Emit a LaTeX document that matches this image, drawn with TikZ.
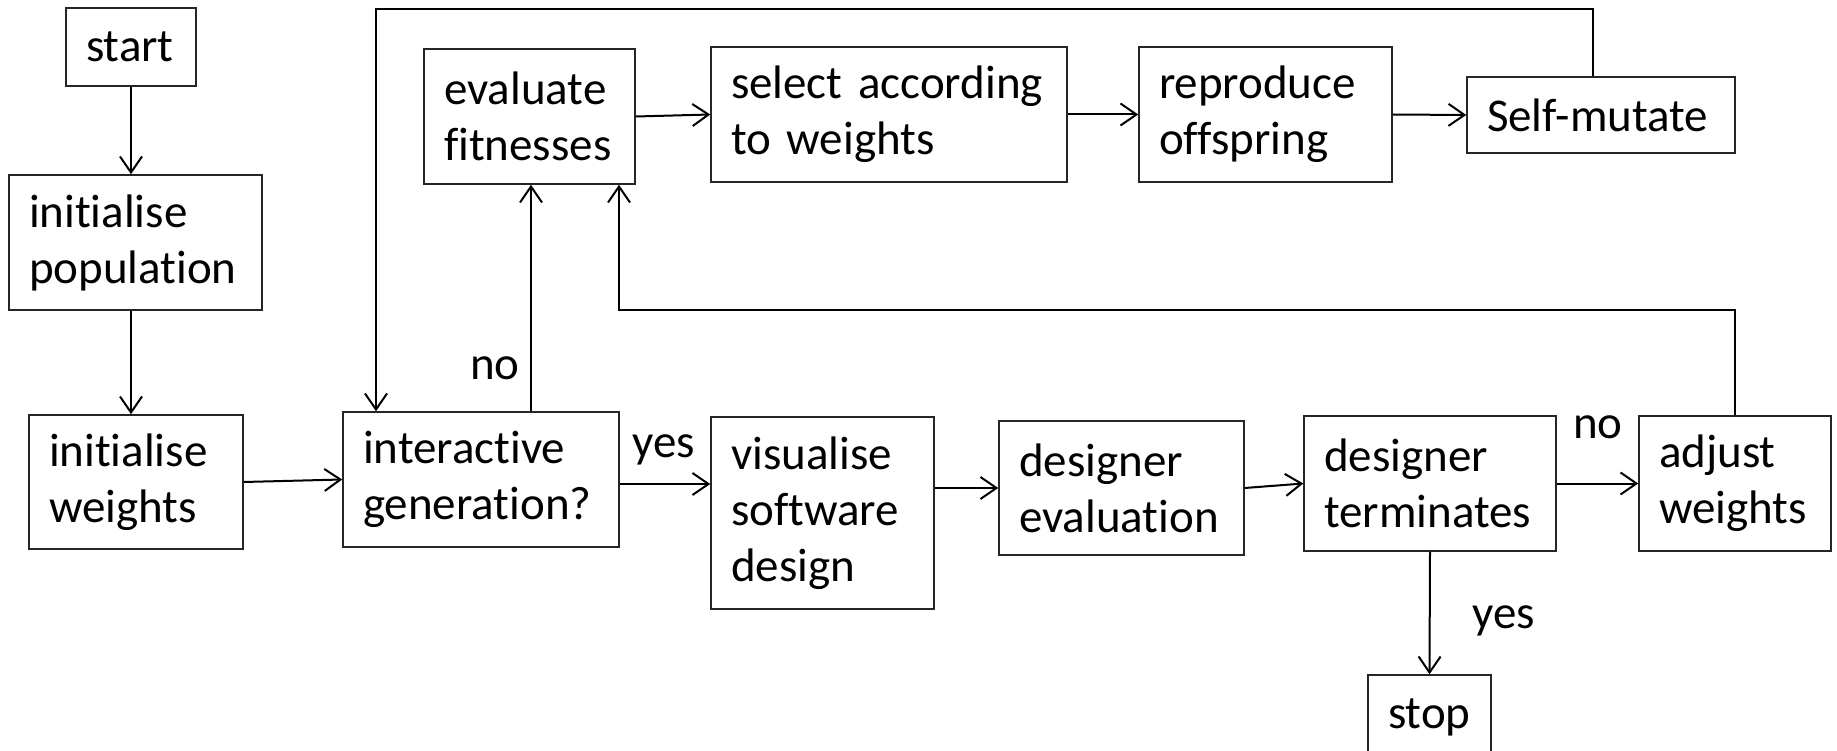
\documentclass[tikz,border=0pt]{standalone}
\usepackage{fontspec}
\setmainfont{Carlito}[Ligatures={NoCommon,NoContextual}]
\usetikzlibrary{arrows.meta,calc}
\tikzset{
  box/.style={draw=black!85, line width=1.5pt, rectangle, inner xsep=20pt, inner ysep=0pt,
    align=left, font=\fontsize{47}{56}\selectfont, anchor=center},
  arr/.style={draw=black, line width=2pt, -{Straight Barb[length=16pt,width=22pt,line width=2pt]}},
  lbl/.style={font=\fontsize{47}{56}\selectfont, anchor=base, inner sep=0pt}
}
\newcommand{\bx}[6]{\node[box, minimum width=#3pt, minimum height=#4pt, text width=#3pt-40pt] (#5) at (#1,#2) {#6};}
\newcommand{\tk}{t\kern0pt }
\begin{document}
\begin{tikzpicture}[x=1pt,y=-1pt]
\useasboundingbox (0,0) rectangle (1837,751);
\clip (0,0) rectangle (1837,751);
\fill[white] (0,0) rectangle (1837,751);
% boxes
\bx{131}{47}{130}{78}{start}{start}
\bx{135.5}{242.5}{253}{135}{initpop}{ini\tk ialise\\popula\tk ion}
\bx{136}{482}{214}{134}{initw}{ini\tk ialise\\weights}
\bx{481}{479.5}{276}{135}{inter}{interac\tk ive\\genera\tk ion?}
\bx{529.5}{116.5}{211}{135}{evalf}{evaluate\\fitnesses}
\bx{889}{114.5}{356}{135}{select}{select according\\to weights}
\bx{1265.5}{114.5}{253}{135}{repro}{reproduce\\offspring}
\bx{1601}{115}{268}{76}{selfm}{Self-mutate}
\bx{822.5}{513}{223}{192}{visual}{visualise\\software\\design}
\bx{1121.5}{488}{245}{134}{deval}{designer\\evaluation}
\bx{1430}{483.5}{252}{135}{dterm}{designer\\terminates}
\bx{1735}{483.5}{192}{135}{adjust}{adjust\\weights}
\bx{1429.5}{717.5}{123}{85}{stop}{stop}
% helper coordinates
\coordinate (tl) at (376,9);
\coordinate (tr) at (1593,9);
\coordinate (bl) at (619,310);
\coordinate (nox) at (531,0);
\coordinate (iy) at ($(inter.east)+(0,4.5)$);
% connectors
\draw[arr] (start.south) -- (start.south |- initpop.north);
\draw[arr] (initpop.south -| start.south) -- (initw.north -| start.south);
\draw[arr] (initw.east) -- (inter.west);
\draw[arr] (iy) -- (iy -| visual.west);
\draw[arr] (inter.north -| nox) -- (evalf.south -| nox);
\draw[arr] (evalf.east) -- (select.west);
\draw[arr] (select.east) -- (repro.west);
\draw[arr] (repro.east) -- (selfm.west);
\draw[arr] (selfm.north -| tr) -- (tr) -- (tl) -- (tl |- inter.north);
\draw[arr] (visual.east |- deval.west) -- (deval.west);
\draw[arr] (deval.east) -- (dterm.west);
\draw[arr] (dterm.east) -- (adjust.west);
\draw[arr] (dterm.south) -- (stop.north);
\draw[arr] (adjust.north) |- (bl) -- (bl |- evalf.south);
% labels
\node[lbl] (yes1) at (664,457) {yes};
\node[lbl] (no1) at (495,379) {no};
\node[lbl] (no2) at (1598,438) {no};
\node[lbl] (yes2) at (1504,628) {yes};
\end{tikzpicture}
\end{document}
